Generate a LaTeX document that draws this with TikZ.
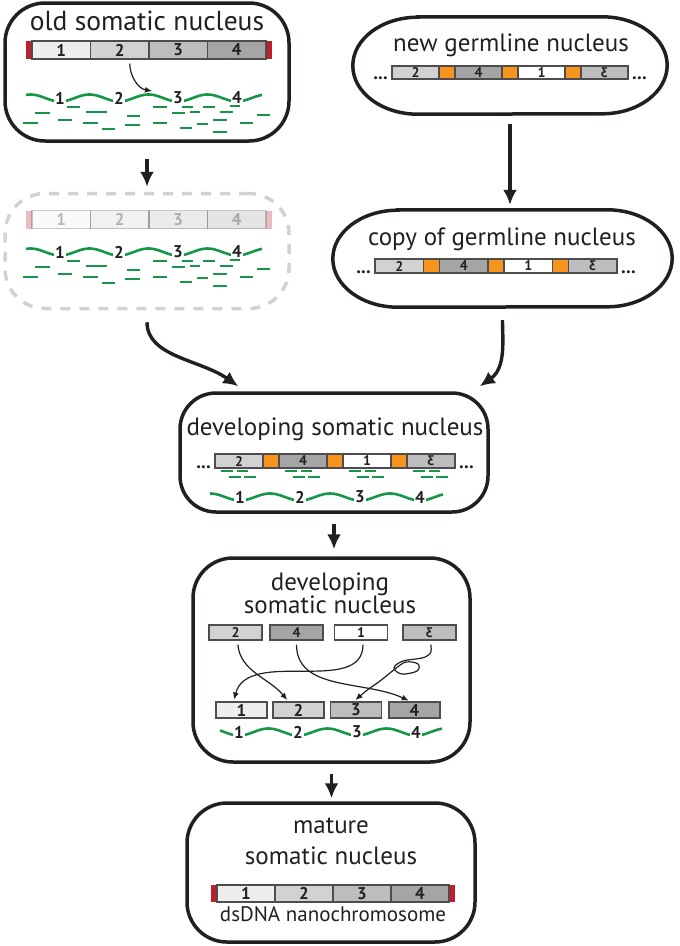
\documentclass[tikz,border=0pt]{standalone}
\usepackage{graphicx}
\usepackage{fontspec}
\setmainfont{PT Sans}
\usetikzlibrary{arrows.meta,calc}

\definecolor{ink}{RGB}{35,31,32}
\definecolor{dnagreen}{RGB}{22,150,72}
\definecolor{telred}{RGB}{190,30,45}
\definecolor{spacer}{RGB}{247,148,29}
\definecolor{gA}{RGB}{238,238,238}
\definecolor{gB}{RGB}{210,210,211}
\definecolor{gC}{RGB}{188,189,190}
\definecolor{gD}{RGB}{164,165,167}

\tikzset{
  nucbox/.style={draw=ink, line width=3.5pt, rounded corners=40pt, inner sep=0pt},
  ovalbox/.style={inner sep=0pt},
  ovalline/.style={draw=ink, line width=3.5pt},
  title/.style={font=\fontsize{25}{28}\selectfont, text=ink, inner sep=0pt},
  seg/.style={draw=ink!80, line width=1.1pt, inner sep=0pt, text=ink, font=\fontsize{17}{17}\selectfont\bfseries},
  gseg/.style={font=\fontsize{14}{14}\selectfont\bfseries},
  dots/.style={font=\fontsize{19}{19}\selectfont\bfseries, text=ink, inner sep=0pt},
  wave/.style={dnagreen, line width=2.6pt},
  rd/.style={dnagreen, line width=1.5pt},
  num/.style={font=\fontsize{17}{17}\selectfont\bfseries, text=ink, fill=white, inner sep=1pt},
  bigarrow/.style={->, >={Latex[length=15pt,width=14pt]}, line width=3.4pt, ink},
  movearrow/.style={->, >={Latex[length=7pt,width=6pt]}, line width=1.2pt, ink},
}

% chromosome with telomeres: prefix, left x, centre y, segment width, height
\newcommand{\nanochrom}[5]{%
  \fill[telred] ({#2-6},{#3-#5/2}) rectangle (#2,{#3+#5/2});
  \fill[telred] ({#2+4*#4},{#3-#5/2}) rectangle ({#2+4*#4+6},{#3+#5/2});
  \foreach \n/\c [count=\i from 0] in {1/gA,2/gB,3/gC,4/gD}
    \node[seg, fill=\c, minimum width=#4, minimum height=#5] (#1\n) at ({#2+(\i+0.5)*#4},#3) {\n};
}

% germline piece with spacers: prefix, left x, centre y, segment width, height
\newcommand{\germbar}[5]{%
  \foreach \n/\t/\c [count=\i from 0] in {a/2/gB, b/4/gD, c/1/white, d/\reflectbox{3}/gC}
    \node[seg, gseg, fill=\c, minimum width=#4, minimum height=#5] (#1\n) at ({#2+\i*(#4+16)+#4/2},#3) {\t};
  \foreach \i in {1,2,3}
    \node[seg, fill=spacer, minimum width=16, minimum height=#5] (#1s\i) at ({#2+\i*(#4+16)-8},#3) {};
  \node[dots, anchor=base east] (#1l) at ({#2-4},{#3+#5/2}) {...};
  \node[dots, anchor=base west] (#1r) at ({#2+4*#4+52},{#3+#5/2}) {...};
}

% wavy transcript with numbers: prefix, from x, to x, centre y, first number x, spacing
\newcommand{\dnawave}[6]{%
  \draw[wave] plot[domain=#2:#3, samples=100, smooth] (\x,{#4+3.5*cos(360/#6*(\x-#5))});
  \foreach \n in {1,...,4}
    \node[num] (#1\n) at ({#5+(\n-1)*#6},#4) {\n};
}

% oval outline round a node: node, half height
\newcommand{\ovaloutline}[2]{%
  \draw[ovalline] ([xshift=65pt]#1.north west) -- ([xshift=-65pt]#1.north east)
    arc[start angle=-90, end angle=90, x radius=65, y radius=#2]
    -- ([xshift=65pt]#1.south west)
    arc[start angle=90, end angle=270, x radius=65, y radius=#2] -- cycle;
}

% short RNAs
\newcommand{\smallreads}{%
  \foreach \xa/\xb/\yy in {67/80/107, 86/107/112, 153/167/107, 182/193/107, 203/215/107,
      230/240/106, 35/50/113, 172/185/113, 190/200/112, 220/233/112, 127/140/116,
      257/270/115, 58/72/120, 213/227/120, 23/38/123, 83/98/123, 125/140/125,
      153/167/123, 197/208/124, 240/253/123, 102/115/129, 180/192/128, 213/227/132}
    \draw[rd] (\xa,\yy) -- (\xb,\yy);
}

\begin{document}
\begin{tikzpicture}[x=1pt,y=-1pt]
\useasboundingbox (0,0) rectangle (680,946);

% nuclei
\node[nucbox, minimum width=284, minimum height=138] (old) at (147,72) {};
\node[nucbox, draw=ink!20, dash pattern=on 10pt off 9pt, minimum width=284, minimum height=115] (fade) at (147,251) {};
\node[ovalbox, minimum width=314, minimum height=97] (germ) at (510,65.5) {};
\ovaloutline{germ}{48.5}
\node[ovalbox, minimum width=339, minimum height=97] (copy) at (502.5,258.5) {};
\ovaloutline{copy}{48.5}
\node[nucbox, rounded corners=36pt, minimum width=308, minimum height=119] (dev) at (334,452.5) {};
\node[nucbox, minimum width=277, minimum height=204] (dev2) at (331.5,660) {};
\node[nucbox, minimum width=288, minimum height=139] (mat) at (331,872.5) {};

% old somatic nucleus
\node[title, font=\fontsize{27.5}{30}\selectfont, anchor=base] (oldT) at (147,30) {old somatic nucleus};
\nanochrom{o}{32}{50}{58.5}{18}
\dnawave{ow}{26}{262}{98}{60}{59}
\smallreads
\coordinate (hit) at (152,91);
\draw[movearrow, shorten <=4pt] ([xshift=10pt]o2.south) to[out=-90, in=170] (hit);

% faded old nucleus
\begin{scope}[opacity=.3]
  \nanochrom{f}{32}{219.5}{58.5}{18}
\end{scope}
\dnawave{fw}{26}{262}{252}{60}{59}
\begin{scope}[shift={(0,154)}]
  \smallreads
\end{scope}

% germline nuclei
\node[title, anchor=base] (germT) at (511,51) {new germline nucleus};
\germbar{g}{392}{72.5}{47}{13}
\node[title, anchor=base] (copyT) at (502,245) {copy of germline nucleus};
\germbar{c}{375}{266}{48.5}{14}

% developing nucleus
\node[title, anchor=base] (devT) at (335,435) {developing somatic nucleus};
\germbar{d}{215}{461}{48}{14}
\foreach \s in {215,279,343,407} {
  \draw[rd] (\s+6,471) -- ++(12,0);
  \draw[rd] (\s+22,471) -- ++(11,0);
  \draw[rd] (\s+14,477) -- ++(12,0);
  \draw[rd] (\s+29,477) -- ++(12,0);
}
\dnawave{dw}{210}{443}{497}{240}{60}

% unscrambling
\node[title, anchor=base] (dev2T1) at (330,590) {developing};
\node[title, anchor=base] (dev2T2) at (330,613) {somatic nucleus};
\foreach \n/\t/\c/\x in {2/2/gB/235.5, 4/4/gD/296.5, 1/1/white/361, 3/\reflectbox{3}/gC/429.5}
  \node[seg, gseg, fill=\c, minimum width=53, minimum height=15] (t\n) at (\x,632.5) {\t};
\foreach \n/\c/\x in {1/gA/241.5, 2/gB/298.5, 3/gC/356, 4/gD/414.5}
  \node[seg, fill=\c, minimum width=51, minimum height=16] (b\n) at (\x,710) {\n};
\draw[movearrow, shorten <=4pt, shorten >=2pt] ([xshift=2pt]t2.south) to[out=-85, in=130] ([xshift=-10pt]b2.north);
\draw[movearrow, shorten <=4pt, shorten >=2pt] (t4.south) to[out=-90, in=155] ([xshift=-4pt]b4.north);
\draw[movearrow, shorten <=4pt, shorten >=2pt] ([xshift=2pt]t1.south) to[out=-90, in=75] ([xshift=-8pt]b1.north);
\draw[movearrow, shorten <=4pt, shorten >=2pt] plot[smooth, tension=0.6] coordinates {([xshift=1pt]t3.south) (427,656) (403,661) (394,668) (402,674) (417,671) (418,664) (406,662) (395,669) (380,681) (366,691) ([xshift=-2pt]b3.north)};
\dnawave{mw}{220}{442}{732}{239}{59}

% mature nucleus
\node[title, anchor=base] (matT1) at (331,833) {mature};
\node[title, anchor=base] (matT2) at (331,864) {somatic nucleus};
\nanochrom{m}{217}{893.5}{58}{17}
\node[title, font=\fontsize{21}{24}\selectfont, anchor=base] (dsl) at (333,921) {dsDNA nanochromosome};

% flow
\draw[bigarrow, shorten <=16pt, shorten >=5pt] (old.south) -- (fade.north);
\draw[bigarrow, shorten <=10pt, shorten >=5pt] (germ.south) -- (germ.south |- copy.north);
\draw[bigarrow, shorten <=12pt] (fade.south) to[out=-90, in=145] ([shift={(60,-5)}]dev.north west);
\draw[bigarrow, shorten <=13pt] (copy.south) to[out=-90, in=35] ([shift={(-10,-5)}]dev.north east);
\draw[bigarrow, shorten <=10pt, shorten >=7pt] (dev.south) -- (dev.south |- dev2.north);
\draw[bigarrow, shorten <=10pt, shorten >=3pt] (dev2.south) -- (dev2.south |- mat.north);
\end{tikzpicture}
\end{document}
